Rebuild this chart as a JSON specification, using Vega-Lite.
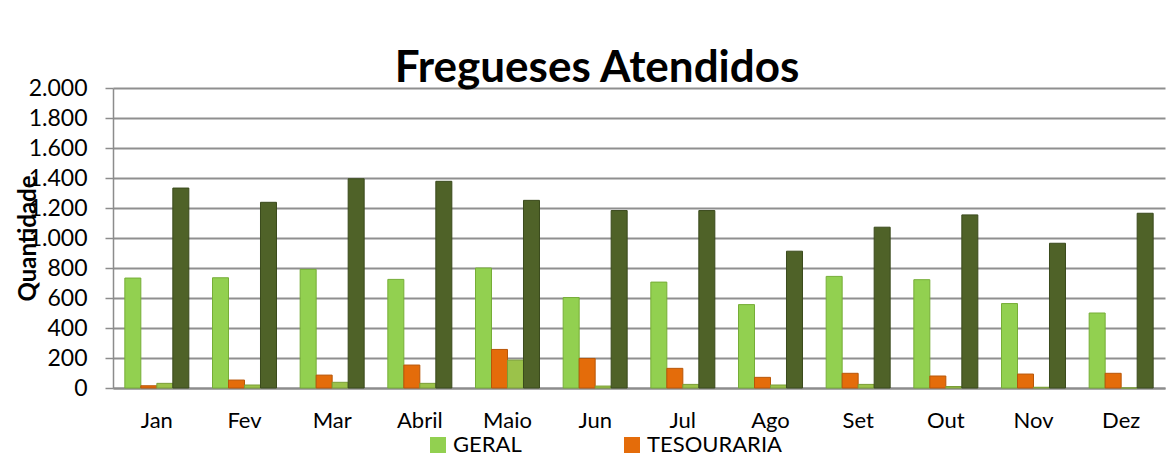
{
  "$schema": "https://vega.github.io/schema/vega-lite/v6.json",
  "width": 1052,
  "height": 300,
  "autosize": "none",
  "padding": {"left": 113, "top": 88, "right": 11, "bottom": 78},
  "background": "white",
  "title": {"text": "Fregueses Atendidos", "font": "Lato", "fontSize": 44, "fontWeight": "bold", "color": "black", "anchor": "middle", "frame": "group", "dx": -42, "offset": -14},
  "data": {"values": [
    {"mes": "Jan", "serie": "GERAL", "valor": 733}, {"mes": "Jan", "serie": "TESOURARIA", "valor": 15}, {"mes": "Jan", "serie": "Série 3", "valor": 31}, {"mes": "Jan", "serie": "Série 4", "valor": 1333},
    {"mes": "Fev", "serie": "GERAL", "valor": 735}, {"mes": "Fev", "serie": "TESOURARIA", "valor": 53}, {"mes": "Fev", "serie": "Série 3", "valor": 20}, {"mes": "Fev", "serie": "Série 4", "valor": 1238},
    {"mes": "Mar", "serie": "GERAL", "valor": 791}, {"mes": "Mar", "serie": "TESOURARIA", "valor": 86}, {"mes": "Mar", "serie": "Série 3", "valor": 38}, {"mes": "Mar", "serie": "Série 4", "valor": 1395},
    {"mes": "Abril", "serie": "GERAL", "valor": 724}, {"mes": "Abril", "serie": "TESOURARIA", "valor": 153}, {"mes": "Abril", "serie": "Série 3", "valor": 31}, {"mes": "Abril", "serie": "Série 4", "valor": 1378},
    {"mes": "Maio", "serie": "GERAL", "valor": 800}, {"mes": "Maio", "serie": "TESOURARIA", "valor": 257}, {"mes": "Maio", "serie": "Série 3", "valor": 186}, {"mes": "Maio", "serie": "Série 4", "valor": 1251},
    {"mes": "Jun", "serie": "GERAL", "valor": 603}, {"mes": "Jun", "serie": "TESOURARIA", "valor": 197}, {"mes": "Jun", "serie": "Série 3", "valor": 13}, {"mes": "Jun", "serie": "Série 4", "valor": 1183},
    {"mes": "Jul", "serie": "GERAL", "valor": 706}, {"mes": "Jul", "serie": "TESOURARIA", "valor": 131}, {"mes": "Jul", "serie": "Série 3", "valor": 24}, {"mes": "Jul", "serie": "Série 4", "valor": 1183},
    {"mes": "Ago", "serie": "GERAL", "valor": 556}, {"mes": "Ago", "serie": "TESOURARIA", "valor": 71}, {"mes": "Ago", "serie": "Série 3", "valor": 20}, {"mes": "Ago", "serie": "Série 4", "valor": 912},
    {"mes": "Set", "serie": "GERAL", "valor": 744}, {"mes": "Set", "serie": "TESOURARIA", "valor": 98}, {"mes": "Set", "serie": "Série 3", "valor": 24}, {"mes": "Set", "serie": "Série 4", "valor": 1072},
    {"mes": "Out", "serie": "GERAL", "valor": 722}, {"mes": "Out", "serie": "TESOURARIA", "valor": 80}, {"mes": "Out", "serie": "Série 3", "valor": 10}, {"mes": "Out", "serie": "Série 4", "valor": 1154},
    {"mes": "Nov", "serie": "GERAL", "valor": 563}, {"mes": "Nov", "serie": "TESOURARIA", "valor": 93}, {"mes": "Nov", "serie": "Série 3", "valor": 5}, {"mes": "Nov", "serie": "Série 4", "valor": 965},
    {"mes": "Dez", "serie": "GERAL", "valor": 500}, {"mes": "Dez", "serie": "TESOURARIA", "valor": 98}, {"mes": "Dez", "serie": "Série 3", "valor": 0}, {"mes": "Dez", "serie": "Série 4", "valor": 1165}
  ]},
  "mark": {"type": "bar", "strokeWidth": 1},
  "encoding": {
    "x": {
      "field": "mes", "type": "nominal",
      "sort": ["Jan", "Fev", "Mar", "Abril", "Maio", "Jun", "Jul", "Ago", "Set", "Out", "Nov", "Dez"],
      "scale": {"paddingInner": 0.27, "paddingOuter": 0.135},
      "axis": {"title": null, "labelAngle": 0, "labelFont": "Lato", "labelFontSize": 22, "labelColor": "black", "labelPadding": 22, "ticks": false, "domainColor": "#8c8c8c", "domainWidth": 2, "grid": false}
    },
    "xOffset": {
      "field": "serie",
      "sort": ["GERAL", "TESOURARIA", "Série 3", "Série 4"],
      "scale": {"paddingInner": 0, "paddingOuter": 0}
    },
    "y": {
      "field": "valor", "type": "quantitative",
      "scale": {"domain": [0, 2000]},
      "axis": {
        "title": "Quantidade", "titleFont": "Lato", "titleFontSize": 24, "titleFontWeight": "bold", "titleColor": "black",
        "titleX": -85, "titleY": 150, "titleAngle": -90, "titleAlign": "center", "titleBaseline": "middle",
        "values": [0, 200, 400, 600, 800, 1000, 1200, 1400, 1600, 1800, 2000],
        "labelExpr": "replace(format(datum.value, ','), ',', '.')",
        "labelFont": "Lato", "labelFontSize": 23, "labelColor": "black", "labelPadding": 18,
        "tickSize": 8, "tickColor": "#8c8c8c", "tickWidth": 1.5,
        "domainColor": "#8c8c8c", "domainWidth": 1.5,
        "gridColor": "#8f8f8f", "gridWidth": 2
      }
    },
    "color": {
      "field": "serie", "type": "nominal",
      "scale": {"domain": ["GERAL", "TESOURARIA", "Série 3", "Série 4"], "range": ["#92D050", "#E46C0A", "#9BC24A", "#4F6228"]},
      "legend": {
        "title": null, "values": ["GERAL", "TESOURARIA"], "orient": "none", "legendX": 314, "legendY": 346,
        "direction": "horizontal", "columns": 2, "columnPadding": 33, "gridAlign": "all",
        "symbolType": "square", "symbolSize": 256, "symbolStrokeWidth": 0, "symbolOpacity": 1,
        "labelFont": "Lato", "labelFontSize": 22, "labelColor": "black", "labelOffset": 4
      }
    },
    "stroke": {
      "field": "serie", "type": "nominal",
      "scale": {"domain": ["GERAL", "TESOURARIA", "Série 3", "Série 4"], "range": ["#76AD37", "#B85608", "#7A9E36", "#3A4A1C"]},
      "legend": null
    }
  },
  "config": {"view": {"stroke": null}, "axis": {"domainCap": "butt"}}
}
